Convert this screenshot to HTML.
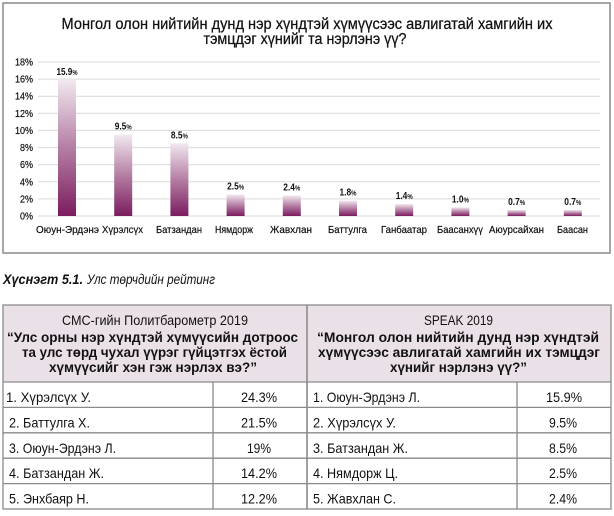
<!DOCTYPE html>
<html>
<head>
<meta charset="utf-8">
<style>
  html,body{margin:0;padding:0;background:#fff;}
  svg{display:block;}
  text{font-family:"Liberation Sans Narrow","Liberation Sans","DejaVu Sans",sans-serif;fill:#111;}
</style>
</head>
<body>
<svg width="614" height="516" viewBox="0 0 614 516" xmlns="http://www.w3.org/2000/svg">
  <defs>
    <linearGradient id="g" x1="0" y1="0" x2="0" y2="1">
      <stop offset="0" stop-color="#f1e8ef"/>
      <stop offset="0.5" stop-color="#b47ea3"/>
      <stop offset="1" stop-color="#7b1c5f"/>
    </linearGradient>
  </defs>

  <!-- Chart box -->
  <rect x="3" y="3" width="607" height="250" fill="#fff" stroke="#8a8a8a" stroke-width="1.5"/>

  <!-- Title -->
  <g stroke="#111" stroke-width="0.25">
  <text x="307" y="29" font-size="15.5" text-anchor="middle" textLength="491" lengthAdjust="spacingAndGlyphs">Монгол олон нийтийн дунд нэр хүндтэй хүмүүсээс авлигатай хамгийн их</text>
  <text x="305" y="44" font-size="15.5" text-anchor="middle" textLength="203" lengthAdjust="spacingAndGlyphs">тэмцдэг хүнийг та нэрлэнэ үү?</text>
  </g>

  <!-- Gridlines -->
  <g stroke="#d9d9d9" stroke-width="1">
    <line x1="38" y1="62" x2="600" y2="62"/>
    <line x1="38" y1="79.1" x2="600" y2="79.1"/>
    <line x1="38" y1="96.2" x2="600" y2="96.2"/>
    <line x1="38" y1="113.3" x2="600" y2="113.3"/>
    <line x1="38" y1="130.4" x2="600" y2="130.4"/>
    <line x1="38" y1="147.6" x2="600" y2="147.6"/>
    <line x1="38" y1="164.7" x2="600" y2="164.7"/>
    <line x1="38" y1="181.8" x2="600" y2="181.8"/>
    <line x1="38" y1="198.9" x2="600" y2="198.9"/>
    <line x1="38" y1="216" x2="600" y2="216"/>
  </g>

  <!-- Y labels -->
  <g font-size="10" text-anchor="end" stroke="#111" stroke-width="0.2">
    <text x="33" y="65.5" textLength="18" lengthAdjust="spacingAndGlyphs">18%</text>
    <text x="33" y="82.6" textLength="18" lengthAdjust="spacingAndGlyphs">16%</text>
    <text x="33" y="99.7" textLength="18" lengthAdjust="spacingAndGlyphs">14%</text>
    <text x="33" y="116.8" textLength="18" lengthAdjust="spacingAndGlyphs">12%</text>
    <text x="33" y="133.9" textLength="18" lengthAdjust="spacingAndGlyphs">10%</text>
    <text x="33" y="151.1" textLength="13" lengthAdjust="spacingAndGlyphs">8%</text>
    <text x="33" y="168.2" textLength="13" lengthAdjust="spacingAndGlyphs">6%</text>
    <text x="33" y="185.3" textLength="13" lengthAdjust="spacingAndGlyphs">4%</text>
    <text x="33" y="202.4" textLength="13" lengthAdjust="spacingAndGlyphs">2%</text>
    <text x="33" y="219.5" textLength="13" lengthAdjust="spacingAndGlyphs">0%</text>
  </g>

  <!-- Bars -->
  <g fill="url(#g)">
    <rect x="58" y="80" width="18" height="136"/>
    <rect x="114.2" y="134.7" width="18" height="81.3"/>
    <rect x="170.4" y="143.3" width="18" height="72.7"/>
    <rect x="226.6" y="194.6" width="18" height="21.4"/>
    <rect x="282.8" y="195.5" width="18" height="20.5"/>
    <rect x="339" y="200.6" width="18" height="15.4"/>
    <rect x="395.2" y="204" width="18" height="12"/>
    <rect x="451.4" y="207.4" width="18" height="8.6"/>
    <rect x="507.6" y="210" width="18" height="6"/>
    <rect x="563.8" y="210" width="18" height="6"/>
  </g>

  <!-- Data labels -->
  <g font-size="10.5" text-anchor="middle" font-weight="bold">
    <text x="67" y="75" textLength="21" lengthAdjust="spacingAndGlyphs">15.9<tspan font-size="7.5">%</tspan></text>
    <text x="123.2" y="129.7" textLength="17" lengthAdjust="spacingAndGlyphs">9.5<tspan font-size="7.5">%</tspan></text>
    <text x="179.4" y="138.3" textLength="17" lengthAdjust="spacingAndGlyphs">8.5<tspan font-size="7.5">%</tspan></text>
    <text x="235.6" y="189.6" textLength="17" lengthAdjust="spacingAndGlyphs">2.5<tspan font-size="7.5">%</tspan></text>
    <text x="291.8" y="190.5" textLength="17" lengthAdjust="spacingAndGlyphs">2.4<tspan font-size="7.5">%</tspan></text>
    <text x="348" y="195.6" textLength="17" lengthAdjust="spacingAndGlyphs">1.8<tspan font-size="7.5">%</tspan></text>
    <text x="404.2" y="199" textLength="17" lengthAdjust="spacingAndGlyphs">1.4<tspan font-size="7.5">%</tspan></text>
    <text x="460.4" y="202.4" textLength="17" lengthAdjust="spacingAndGlyphs">1.0<tspan font-size="7.5">%</tspan></text>
    <text x="516.6" y="205" textLength="17" lengthAdjust="spacingAndGlyphs">0.7<tspan font-size="7.5">%</tspan></text>
    <text x="572.8" y="205" textLength="17" lengthAdjust="spacingAndGlyphs">0.7<tspan font-size="7.5">%</tspan></text>
  </g>

  <!-- Category labels -->
  <g font-size="10.5" text-anchor="middle" stroke="#111" stroke-width="0.2">
    <text x="67.5" y="233" textLength="63" lengthAdjust="spacingAndGlyphs">Оюун-Эрдэнэ</text>
    <text x="122.5" y="233" textLength="41" lengthAdjust="spacingAndGlyphs">Хүрэлсүх</text>
    <text x="179" y="233" textLength="46" lengthAdjust="spacingAndGlyphs">Батзандан</text>
    <text x="234" y="233" textLength="38" lengthAdjust="spacingAndGlyphs">Нямдорж</text>
    <text x="291" y="233" textLength="42" lengthAdjust="spacingAndGlyphs">Жавхлан</text>
    <text x="347.5" y="233" textLength="39" lengthAdjust="spacingAndGlyphs">Баттулга</text>
    <text x="404" y="233" textLength="46" lengthAdjust="spacingAndGlyphs">Ганбаатар</text>
    <text x="460" y="233" textLength="46" lengthAdjust="spacingAndGlyphs">Баасанхүү</text>
    <text x="516.5" y="233" textLength="55" lengthAdjust="spacingAndGlyphs">Аюурсайхан</text>
    <text x="572.5" y="233" textLength="31" lengthAdjust="spacingAndGlyphs">Баасан</text>
  </g>

  <!-- Caption -->
  <text x="3" y="284" font-size="13.5" font-style="italic" font-weight="bold" textLength="80" lengthAdjust="spacingAndGlyphs">Хүснэгт  5.1.</text>
  <text x="87" y="284" font-size="13.5" font-style="italic" textLength="128" lengthAdjust="spacingAndGlyphs">Улс төрчдийн рейтинг</text>

  <!-- Table header backgrounds -->
  <rect x="3" y="305" width="608" height="77" fill="#eae0e8"/>

  <!-- Left header -->
  <text x="155" y="325" font-size="14" text-anchor="middle" textLength="186" lengthAdjust="spacingAndGlyphs">СМС-гийн Политбарометр 2019</text>
  <g font-size="14" font-weight="bold" text-anchor="middle">
    <text x="152.5" y="342" textLength="291" lengthAdjust="spacingAndGlyphs">“Улс орны нэр хүндтэй хүмүүсийн дотроос</text>
    <text x="154.5" y="357" textLength="265" lengthAdjust="spacingAndGlyphs">та улс төрд чухал үүрэг гүйцэтгэх ёстой</text>
    <text x="153" y="372" textLength="208" lengthAdjust="spacingAndGlyphs">хүмүүсийг хэн гэж нэрлэх вэ?”</text>
  </g>

  <!-- Right header -->
  <text x="458.5" y="325" font-size="14" text-anchor="middle" textLength="69" lengthAdjust="spacingAndGlyphs">SPEAK 2019</text>
  <g font-size="14" font-weight="bold" text-anchor="middle">
    <text x="458" y="342" textLength="282" lengthAdjust="spacingAndGlyphs">“Монгол олон нийтийн дунд нэр хүндтэй</text>
    <text x="459" y="357" textLength="282" lengthAdjust="spacingAndGlyphs">хүмүүсээс авлигатай хамгийн их тэмцдэг</text>
    <text x="458.5" y="372" textLength="137" lengthAdjust="spacingAndGlyphs">хүнийг нэрлэнэ үү?”</text>
  </g>

  <!-- Table lines -->
  <g stroke="#8a8a8a" stroke-width="1.3" fill="none">
    <rect x="3" y="305" width="608" height="204"/>
    <line x1="307" y1="305" x2="307" y2="509" stroke-width="1.6"/>
    <line x1="3" y1="382" x2="611" y2="382"/>
    <line x1="3" y1="407.4" x2="611" y2="407.4"/>
    <line x1="3" y1="432.8" x2="611" y2="432.8"/>
    <line x1="3" y1="458.2" x2="611" y2="458.2"/>
    <line x1="3" y1="483.6" x2="611" y2="483.6"/>
    <line x1="213" y1="382" x2="213" y2="509"/>
    <line x1="517" y1="382" x2="517" y2="509"/>
  </g>

  <!-- Table rows left -->
  <g font-size="14">
    <text x="6" y="402" textLength="85" lengthAdjust="spacingAndGlyphs">1. Хүрэлсүх У.</text>
    <text x="9" y="427.4" textLength="81" lengthAdjust="spacingAndGlyphs">2. Баттулга Х.</text>
    <text x="9" y="452.8" textLength="107" lengthAdjust="spacingAndGlyphs">3. Оюун-Эрдэнэ Л.</text>
    <text x="9" y="478.2" textLength="95" lengthAdjust="spacingAndGlyphs">4. Батзандан Ж.</text>
    <text x="9" y="503.6" textLength="80" lengthAdjust="spacingAndGlyphs">5. Энхбаяр Н.</text>
  </g>
  <g font-size="14" text-anchor="middle">
    <text x="259" y="402" textLength="36" lengthAdjust="spacingAndGlyphs">24.3%</text>
    <text x="259" y="427.4" textLength="36" lengthAdjust="spacingAndGlyphs">21.5%</text>
    <text x="259" y="452.8" textLength="24" lengthAdjust="spacingAndGlyphs">19%</text>
    <text x="259" y="478.2" textLength="36" lengthAdjust="spacingAndGlyphs">14.2%</text>
    <text x="259" y="503.6" textLength="36" lengthAdjust="spacingAndGlyphs">12.2%</text>
  </g>

  <!-- Table rows right -->
  <g font-size="14">
    <text x="313" y="402" textLength="107" lengthAdjust="spacingAndGlyphs">1. Оюун-Эрдэнэ Л.</text>
    <text x="313" y="427.4" textLength="83" lengthAdjust="spacingAndGlyphs">2. Хүрэлсүх У.</text>
    <text x="313" y="452.8" textLength="95" lengthAdjust="spacingAndGlyphs">3. Батзандан Ж.</text>
    <text x="313" y="478.2" textLength="85" lengthAdjust="spacingAndGlyphs">4. Нямдорж Ц.</text>
    <text x="313" y="503.6" textLength="83" lengthAdjust="spacingAndGlyphs">5. Жавхлан С.</text>
  </g>
  <g font-size="14" text-anchor="middle">
    <text x="564" y="402" textLength="36" lengthAdjust="spacingAndGlyphs">15.9%</text>
    <text x="563" y="427.4" textLength="28" lengthAdjust="spacingAndGlyphs">9.5%</text>
    <text x="563" y="452.8" textLength="28" lengthAdjust="spacingAndGlyphs">8.5%</text>
    <text x="563" y="478.2" textLength="28" lengthAdjust="spacingAndGlyphs">2.5%</text>
    <text x="563" y="503.6" textLength="28" lengthAdjust="spacingAndGlyphs">2.4%</text>
  </g>
</svg>
</body>
</html>
